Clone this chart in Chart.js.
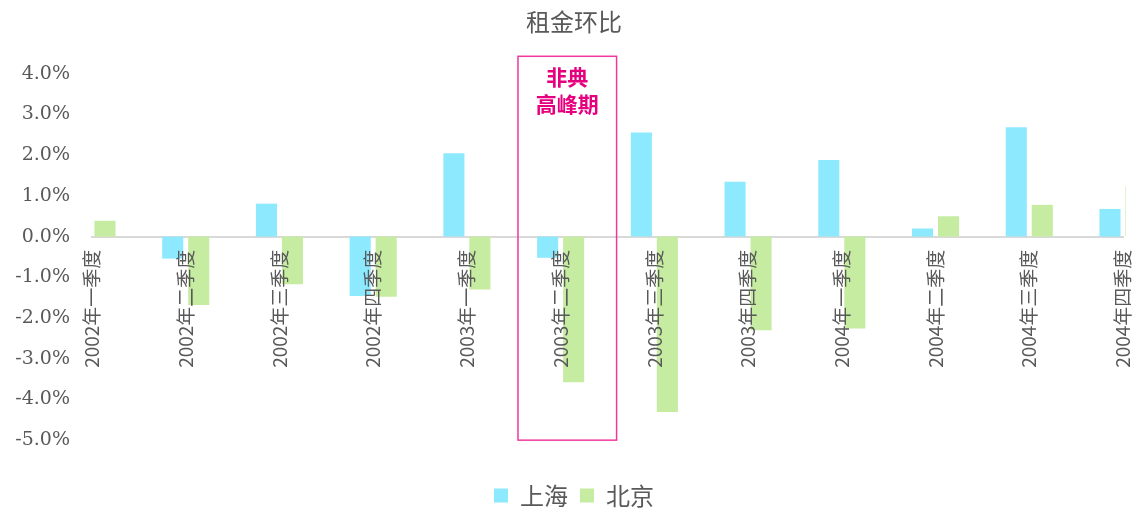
<!DOCTYPE html>
<html>
<head>
<meta charset="utf-8">
<script src="https://cdn.jsdelivr.net/npm/chart.js@4"></script>
<style>
  html, body { margin: 0; padding: 0; background: #fff; }
  #wrap { width: 1148px; height: 511px; }
</style>
</head>
<body>
<div id="wrap"><canvas id="rent-chart"></canvas></div>
<script>
const categories = [
  "2002年一季度", "2002年二季度", "2002年三季度", "2002年四季度",
  "2003年一季度", "2003年二季度", "2003年三季度", "2003年四季度",
  "2004年一季度", "2004年二季度", "2004年三季度", "2004年四季度",
];
const shanghai = [null, -0.54, 0.81, -1.46, 2.05, -0.52, 2.56, 1.35, 1.88, 0.2, 2.69, 0.68];
const beijing = [0.39, -1.68, -1.17, -1.48, -1.3, -3.58, -4.31, -2.3, -2.26, 0.5, 0.78, 1.23];
const yTicks = [-5, -4, -3, -2, -1, 0, 1, 2, 3, 4];
const Y_MAX = 4;
const Y_MIN = -5.77;

// SARS peak highlight, in data units (category index / percent)
const sarsBox = { x0: 4.545, x1: 5.597, yTop: 4.43, yBottom: -5 };
const sarsText = ["非典", "高峰期"];

const grey = "#595959";
const cjk = "'Noto Sans CJK SC', 'Noto Sans', sans-serif";

const sarsPlugin = {
  id: "sarsBox",
  afterDraw(chart) {
    const { ctx, scales } = chart;
    const x0 = scales.x.getPixelForValue(sarsBox.x0);
    const x1 = scales.x.getPixelForValue(sarsBox.x1);
    const y0 = scales.y.getPixelForValue(sarsBox.yTop);
    const y1 = scales.y.getPixelForValue(sarsBox.yBottom);
    ctx.save();
    ctx.strokeStyle = "#f0389e";
    ctx.lineWidth = 1.5;
    ctx.strokeRect(x0, y0, x1 - x0, y1 - y0);
    ctx.fillStyle = "#e6007e";
    ctx.font = "bold 21px " + cjk;
    ctx.textAlign = "center";
    ctx.textBaseline = "middle";
    const cx = (x0 + x1) / 2;
    sarsText.forEach(function (line, i) {
      ctx.fillText(line, cx, y0 + 21 + i * 26.5);
    });
    ctx.restore();
  },
};

new Chart(document.getElementById("rent-chart"), {
  type: "bar",
  data: {
    labels: categories,
    datasets: [
      {
        label: "上海",
        data: shanghai,
        backgroundColor: "#8ce9fe",
        categoryPercentage: 0.555,
        barPercentage: 0.81,
        clip: { left: 0, top: false, right: 3, bottom: false },
      },
      {
        label: "北京",
        data: beijing,
        backgroundColor: "#c5eca1",
        categoryPercentage: 0.555,
        barPercentage: 0.81,
        clip: { left: 0, top: false, right: 3, bottom: false },
      },
    ],
  },
  options: {
    responsive: true,
    maintainAspectRatio: false,
    animation: false,
    layout: { padding: { left: 0, right: 0, top: 0, bottom: -6.5 } },
    plugins: {
      title: {
        display: true,
        text: "租金环比",
        color: grey,
        font: { family: cjk, size: 24, weight: "normal" },
        padding: { top: 7, bottom: 38 },
      },
      legend: {
        position: "bottom",
        labels: {
          color: grey,
          boxWidth: 14,
          boxHeight: 14,
          padding: 12,
          font: { family: cjk, size: 24 },
        },
      },
      tooltip: { enabled: false },
    },
    scales: {
      x: {
        position: { y: 0 },
        offset: false,
        grid: { display: false, drawTicks: false },
        border: { display: true, color: "#d9d9d9", width: 2 },
        afterFit: function (scale) {
          scale.paddingLeft = 0;
          scale.paddingRight = 25;
        },
        ticks: {
          z: 1,
          autoSkip: false,
          minRotation: 90,
          maxRotation: 90,
          padding: 13,
          color: grey,
          font: { family: cjk, size: 19 },
        },
      },
      y: {
        min: Y_MIN,
        max: Y_MAX,
        grid: { display: false, drawTicks: false },
        border: { display: false },
        afterBuildTicks: function (scale) {
          scale.ticks = yTicks.map(function (v) { return { value: v }; });
        },
        afterFit: function (scale) {
          scale.width = 92;
        },
        ticks: {
          padding: 22,
          color: grey,
          font: { family: "'DejaVu Serif', serif", size: 19 },
          callback: function (v) { return v.toFixed(1) + "%"; },
        },
      },
    },
  },
  plugins: [sarsPlugin],
});
</script>
</body>
</html>
